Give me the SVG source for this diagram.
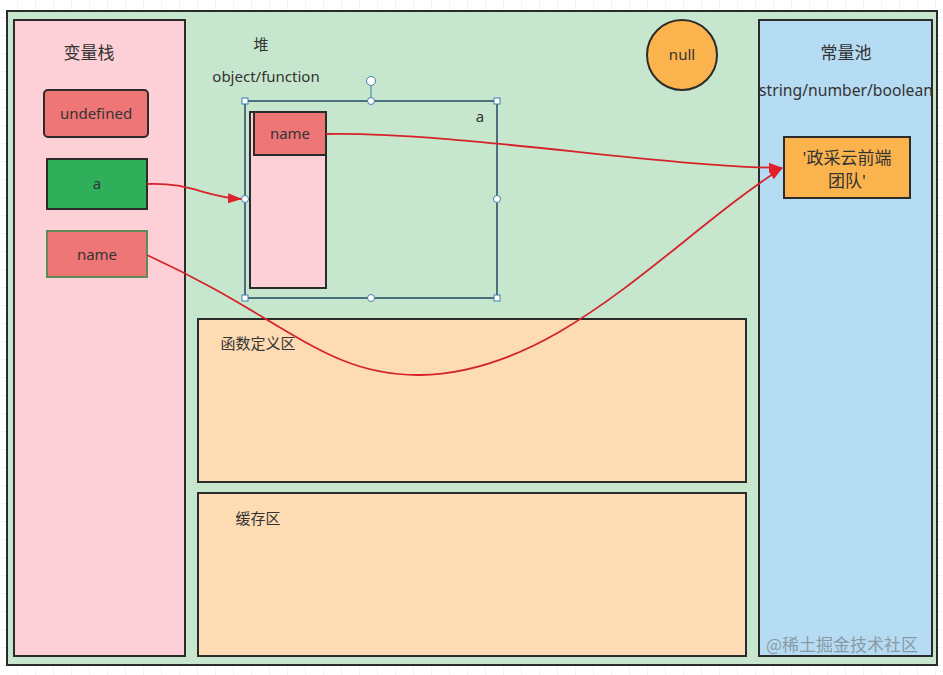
<svg xmlns="http://www.w3.org/2000/svg" width="943" height="675" viewBox="0 0 943 675">
<style>
.t{font-family:"Noto Sans","Noto Sans CJK SC",sans-serif;font-size:15px;fill:#333;text-anchor:middle}
.big{font-size:17px}
.box{stroke:#2b2b2b;stroke-width:2}
.sel{fill:none;stroke:#234a63;stroke-width:1.5}
.h{fill:#fff;stroke:#3d7fae;stroke-width:1}
.c{fill:none;stroke:#d6232a;stroke-width:1.8}
</style>
<defs>
<pattern id="grid" width="18" height="18" patternUnits="userSpaceOnUse">
<path d="M18 0V18M0 18H18" fill="none" stroke="#e6e6e6" stroke-width="1"/>
</pattern>
<marker id="arr" markerWidth="14" markerHeight="10" refX="13" refY="5" orient="auto" markerUnits="userSpaceOnUse">
<path d="M0,0 L14,5 L0,10 Z" fill="#e0202a"/>
</marker>
</defs>
<rect width="943" height="675" fill="#fff"/>
<rect width="943" height="675" fill="url(#grid)"/>
<g id="outer"><rect x="7" y="11" width="930" height="654" fill="#c6e6cd" class="box"/></g>
<g id="stack"><rect x="14" y="20" width="171" height="636" fill="#fdd0d8" class="box"/><text class="t big" x="89" y="59">变量栈</text></g>
<g id="pool"><rect x="759" y="20" width="173" height="636" fill="#b6dcf3" class="box"/><text class="t big" x="846" y="59">常量池</text><text class="t" x="846" y="96" style="font-size:15.7px">string/number/boolean</text></g>
<g id="heap-label"><text class="t" x="261" y="50">堆</text><text class="t" x="266" y="82">object/function</text></g>
<g id="funcarea"><rect x="198" y="319" width="548" height="163" fill="#fddcb3" class="box"/><text class="t" x="258" y="349">函数定义区</text></g>
<g id="cache"><rect x="198" y="493" width="548" height="163" fill="#fddcb3" class="box"/><text class="t" x="258" y="524">缓存区</text></g>
<g id="undefined"><rect x="44" y="90" width="104" height="47" rx="4" fill="#ef7676" class="box"/><text class="t" x="96" y="119">undefined</text></g>
<g id="a"><rect x="47" y="159" width="100" height="50" fill="#2faf5a" class="box"/><text class="t" x="97" y="189">a</text></g>
<g id="name-stack"><rect x="47" y="231" width="100" height="46" fill="#ef7676" stroke="#5d8c5a" stroke-width="2"/><text class="t" x="97" y="260">name</text></g>
<g id="null"><circle cx="682" cy="55" r="35" fill="#fbb34e" class="box"/><text class="t" x="682" y="60">null</text></g>
<g id="const"><rect x="784" y="137" width="126" height="61" fill="#fbb34e" class="box"/><text class="t big" x="847" y="164">'政采云前端</text><text class="t big" x="847" y="187">团队'</text></g>
<g id="obj-a">
<rect x="250" y="112" width="76" height="176" fill="#fdd0d8" class="box"/>
<rect x="254" y="112" width="72" height="43" fill="#ef7676" class="box"/>
<text class="t" x="290" y="139">name</text>
<text class="t" x="480" y="122">a</text>
<rect x="245" y="101" width="252" height="197" class="sel"/>
<line x1="371" y1="86" x2="371" y2="101" stroke="#3d7fae" stroke-width="1"/>
<circle cx="371" cy="81" r="4.5" class="h"/>
<rect x="242" y="98" width="6" height="6" class="h"/><rect x="494" y="98" width="6" height="6" class="h"/>
<rect x="242" y="295" width="6" height="6" class="h"/><rect x="494" y="295" width="6" height="6" class="h"/>
<circle cx="371" cy="101" r="3.5" class="h"/><circle cx="371" cy="298" r="3.5" class="h"/>
<circle cx="245" cy="199" r="3.5" class="h"/><circle cx="497" cy="199" r="3.5" class="h"/>
</g>
<g id="connectors">
<path class="c" d="M147,184 C190,182 205,197 241,199" marker-end="url(#arr)"/>
<path class="c" d="M326,134 C460,132 650,166 782,168" marker-end="url(#arr)"/>
<path class="c" d="M147,255 C285,318 325,376 420,375 C560,373 670,240 782,168" marker-end="url(#arr)"/>
</g>
<text x="842" y="651" style="font-family:'Noto Sans CJK SC',sans-serif;font-size:17px;fill:#8a9aa5;text-anchor:middle">@稀土掘金技术社区</text>
</svg>
